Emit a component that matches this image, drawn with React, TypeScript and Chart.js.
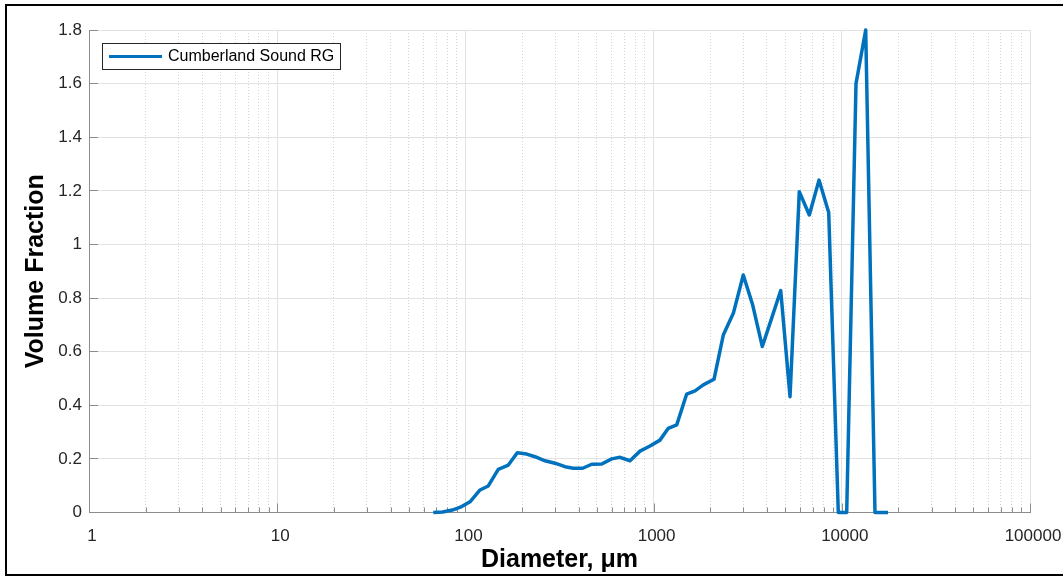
import React, { useEffect, useRef } from "react";
import { Chart, registerables } from "chart.js";

Chart.register(...registerables);

// ---------------- data ----------------
const seriesLabel = "Cumberland Sound RG";

const diameters = [
  67.5, 75.8, 85.2, 95.6, 105.8, 119.6, 132.3, 149.5, 169.1, 188.7,
  211.7, 234.4, 264.9, 299.4, 338.2, 374.4, 420.1, 469.0, 530.1, 599.0,
  663.0, 749.2, 846.8, 957.0, 1081, 1197, 1327, 1499, 1660, 1837,
  2094, 2346, 2652, 2996, 3362, 3781, 4241, 4737, 5307, 5945,
  6720, 7566, 8520, 9581, 10617, 11898, 13397, 15010, 17600,
];

const volumeFractions = [
  0, 0.002, 0.009, 0.022, 0.04, 0.084, 0.099, 0.161, 0.177, 0.223,
  0.218, 0.208, 0.193, 0.184, 0.171, 0.165, 0.165, 0.18, 0.181, 0.2,
  0.206, 0.193, 0.229, 0.248, 0.27, 0.314, 0.327, 0.442, 0.454, 0.476,
  0.497, 0.662, 0.743, 0.886, 0.774, 0.619, 0.725, 0.828, 0.432, 1.197,
  1.11, 1.24, 1.119, 0, 0, 1.6, 1.8, 0, 0,
];

const xTickValues = [1, 10, 100, 1000, 10000, 100000];
const xTickLabels = ["1", "10", "100", "1000", "10000", "100000"];
const yTickValues = [0, 0.2, 0.4, 0.6, 0.8, 1, 1.2, 1.4, 1.6, 1.8];
const yTickLabels = ["0", "0.2", "0.4", "0.6", "0.8", "1", "1.2", "1.4", "1.6", "1.8"];

const xTitle = "Diameter, \u03bcm";
const yTitle = "Volume Fraction";

// ---------------- styles ----------------
const FONT = "'Liberation Sans', Arial, Helvetica, sans-serif";
const LINE_COLOR = "#0072BD";
const AXIS_COLOR = "#8c8c8c";
const TICK_TEXT = "#262626";
const MAJOR_GRID = "#e2e2e2";
const MINOR_GRID = "#d4d4d4";

// all x tick positions: decades plus their 2..9 multiples
const xAllTicks: number[] = [];
xTickValues.forEach((d, i) => {
  xAllTicks.push(d);
  if (i < xTickValues.length - 1) {
    for (let k = 2; k <= 9; k++) xAllTicks.push(d * k);
  }
});
const isMajorX = (v: number) => xTickValues.indexOf(v) >= 0;

const inwardTicks = {
  id: "inwardTicks",
  beforeDatasetsDraw(chart: any) {
    const { ctx, chartArea, scales } = chart;
    const xs = scales.x;
    const ys = scales.y;
    ctx.save();
    ctx.strokeStyle = AXIS_COLOR;
    ctx.lineWidth = 1;
    ctx.beginPath();
    xs.ticks.forEach((t: any) => {
      const px = Math.round(xs.getPixelForValue(t.value)) + 0.5;
      const len = isMajorX(t.value) ? 9 : 5;
      ctx.moveTo(px, chartArea.bottom);
      ctx.lineTo(px, chartArea.bottom - len);
    });
    ys.ticks.forEach((t: any) => {
      const py = Math.round(ys.getPixelForValue(t.value) - 0.5) + 0.5;
      ctx.moveTo(chartArea.left, py);
      ctx.lineTo(chartArea.left + 9, py);
    });
    ctx.stroke();
    ctx.restore();
  },
};

const boxedLegend = {
  id: "boxedLegend",
  afterDraw(chart: any) {
    const { ctx, chartArea } = chart;
    const ds = chart.data.datasets[0];
    const left = chartArea.left + 13;
    const top = chartArea.top + 13;
    ctx.save();
    ctx.font = `16px ${FONT}`;
    const tw = ctx.measureText(ds.label).width;
    const w = 7 + 53 + 6 + tw + 6;
    const h = 26;
    ctx.fillStyle = "#ffffff";
    ctx.fillRect(left, top, w, h);
    ctx.strokeStyle = "#262626";
    ctx.lineWidth = 1;
    ctx.strokeRect(Math.round(left) + 0.5, Math.round(top) + 0.5, Math.round(w), h);
    const cy = top + h / 2 + 0.5;
    ctx.strokeStyle = ds.borderColor;
    ctx.lineWidth = 3;
    ctx.beginPath();
    ctx.moveTo(left + 7, cy);
    ctx.lineTo(left + 60, cy);
    ctx.stroke();
    ctx.fillStyle = "#000000";
    ctx.textBaseline = "middle";
    ctx.textAlign = "left";
    ctx.fillText(ds.label, left + 66, cy + 0.5);
    ctx.restore();
  },
};

export default function App() {
  const canvasRef = useRef<HTMLCanvasElement | null>(null);

  useEffect(() => {
    if (!canvasRef.current) return;
    Chart.defaults.font.family = FONT;
    const chart = new Chart(canvasRef.current, {
      type: "line",
      data: {
        datasets: [
          {
            label: seriesLabel,
            data: diameters.map((d, i) => ({ x: d, y: volumeFractions[i] })),
            borderColor: LINE_COLOR,
            backgroundColor: LINE_COLOR,
            borderWidth: 3.5,
            pointRadius: 0,
            tension: 0,
            fill: false,
            clip: false as any,
            borderJoinStyle: "round",
            borderCapStyle: "butt",
          },
        ],
      },
      options: {
        responsive: false,
        animation: false,
        events: [],
        layout: { padding: { left: 0, top: 30, right: 33, bottom: 0 } },
        plugins: {
          legend: { display: false },
          tooltip: { enabled: false },
        },
        scales: {
          x: {
            type: "logarithmic",
            min: 1,
            max: 100000,
            afterBuildTicks: (s: any) => {
              s.ticks = xAllTicks.map((v) => ({ value: v }));
            },
            afterFit: (s: any) => {
              s.height = 65.5;
              s.paddingLeft = 0;
              s.paddingRight = 0;
            },
            ticks: {
              autoSkip: false,
              maxRotation: 0,
              minRotation: 0,
              padding: 14,
              labelOffset: 3,
              color: TICK_TEXT,
              font: { size: 17 },
              callback: (v: any) => {
                const i = xTickValues.indexOf(Number(v));
                return i >= 0 ? xTickLabels[i] : "";
              },
            },
            grid: {
              drawTicks: false,
              lineWidth: 1,
              color: (c: any) =>
                c.tick && isMajorX(c.tick.value) ? MAJOR_GRID : MINOR_GRID,
            },
            border: {
              display: true,
              color: AXIS_COLOR,
              width: 1,
              dash: (c: any) =>
                c.tick && !isMajorX(c.tick.value) ? [1, 2] : [],
            },
            title: {
              display: true,
              text: xTitle,
              color: "#000000",
              font: { size: 25, weight: "bold" },
              padding: { top: 0, bottom: 3 },
            },
          },
          y: {
            type: "linear",
            min: 0,
            max: 1.8,
            afterBuildTicks: (s: any) => {
              s.ticks = yTickValues.map((v) => ({ value: v }));
            },
            afterFit: (s: any) => {
              s.width = 89;
              s.paddingTop = 0;
              s.paddingBottom = 0;
            },
            ticks: {
              autoSkip: false,
              padding: 7,
              color: TICK_TEXT,
              font: { size: 17 },
              callback: (v: any) => {
                const i = yTickValues.findIndex((t) => Math.abs(t - Number(v)) < 1e-9);
                return i >= 0 ? yTickLabels[i] : "";
              },
            },
            grid: {
              drawTicks: false,
              lineWidth: 1,
              color: MAJOR_GRID,
            },
            border: { display: true, color: AXIS_COLOR, width: 1 },
            title: {
              display: true,
              text: yTitle,
              color: "#000000",
              font: { size: 25, weight: "bold" },
              padding: { top: 21, bottom: 0 },
            },
          },
        },
      },
      plugins: [inwardTicks, boxedLegend],
    } as any);
    return () => chart.destroy();
  }, []);

  return (
    <div
      style={{
        position: "fixed",
        left: 0,
        top: 0,
        width: 1063,
        height: 578,
        overflow: "hidden",
        background: "#ffffff",
      }}
    >
      <canvas
        ref={canvasRef}
        width={1063}
        height={578}
        style={{ position: "absolute", left: 0, top: 0, display: "block" }}
      />
      <div
        style={{
          position: "absolute",
          left: 5,
          top: 4,
          width: 1080,
          height: 572,
          boxSizing: "border-box",
          border: "2px solid #000000",
          pointerEvents: "none",
        }}
      />
    </div>
  );
}
